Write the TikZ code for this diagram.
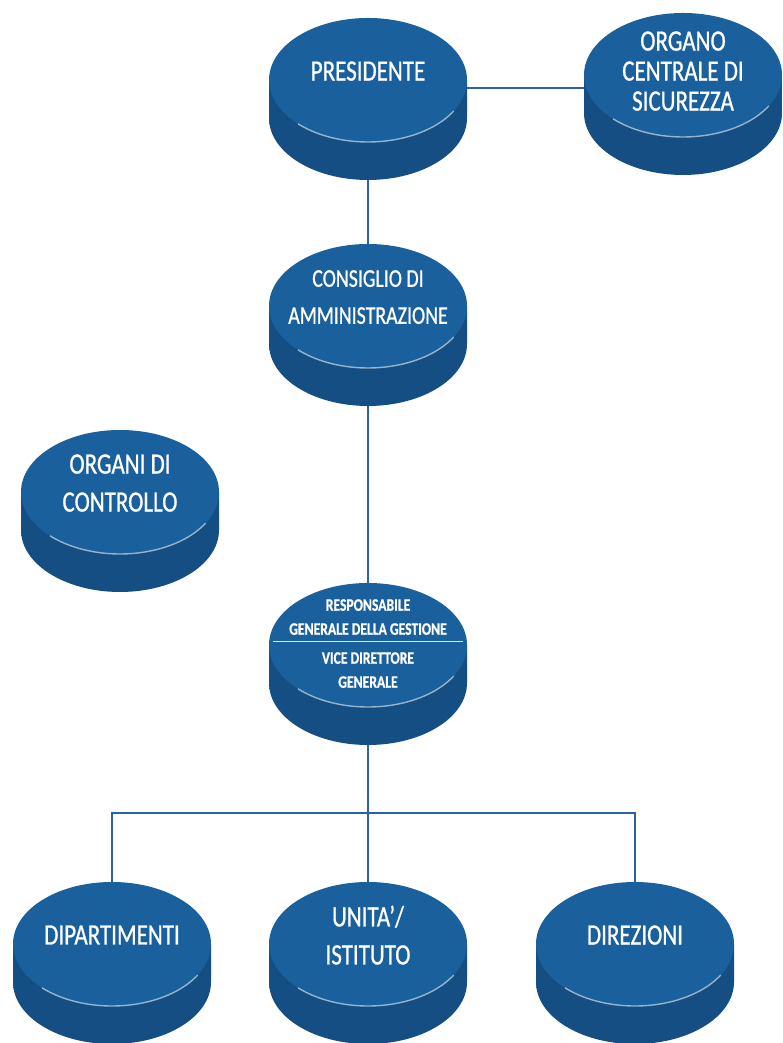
\documentclass[tikz,border=0pt]{standalone}
\usepackage{fontspec}
\newfontfamily\discfont[FakeStretch=0.78,FakeBold=0.8]{Carlito}
\usepackage{xcolor}
\definecolor{discblue}{RGB}{26,96,156}
\definecolor{discmid}{RGB}{30,98,155}
\definecolor{discdark}{RGB}{20,78,130}
\definecolor{wireblue}{RGB}{42,98,166}
\usepackage{tikz}
\usetikzlibrary{calc,backgrounds,shapes.geometric}
\tikzset{
  disc/.style={ellipse, fill=discblue, text=white, align=center,
               minimum width=198pt, minimum height=124pt,
               inner sep=-25pt, outer sep=0pt, text depth=18pt,
               font=\discfont\fontsize{29.5}{38}\selectfont},
  disctight/.style={font=\discfont\fontsize{25.5}{37}\selectfont},
  disctriple/.style={text depth=8pt, font=\discfont\fontsize{29.5}{30}\selectfont},
  discsmall/.style={text depth=3pt,
                    font=\discfont\bfseries\fontsize{17.5}{24}\selectfont},
  discside/.style={left color=discdark, middle color=discmid, right color=discdark},
  discrim/.style={draw=white, opacity=0.55, line width=1.4pt},
  wire/.style={draw=wireblue, line width=1.3pt},
}

\begin{document}
\begin{tikzpicture}[x=1pt,y=1pt]
\useasboundingbox (0,0) rectangle (782,1043);

\node[disc] (pres) at (368,963) {PRESIDENTE};
\node[disc,disctriple] (sic) at (683,968) {ORGANO\\CENTRALE DI\\SICUREZZA};
\node[disc,disctight] (cda) at (368,737) {CONSIGLIO DI\\AMMINISTRAZIONE};
\node[disc] (ctrl) at (120,551) {ORGANI DI\\CONTROLLO};
\node[disc,discsmall] (rgg) at (368,398)
  {RESPONSABILE\\GENERALE DELLA GESTIONE\\[5pt]VICE DIRETTORE\\GENERALE};
\node[disc] (dip) at (112,99) {DIPARTIMENTI};
\node[disc] (uni) at (368,99) {UNITA’/\\ISTITUTO};
\node[disc] (dir) at (635,99) {DIREZIONI};
\coordinate (bus) at (368,230);

\begin{pgfonlayer}{background}
\fill[white] (0,0) rectangle (782,1043);
\draw[wire] ([yshift=-8pt]pres.east) -- ([yshift=-8pt]pres.east -| sic.west);
\draw[wire] (pres.south) -- (cda.north);
\draw[wire] (cda.south) -- (rgg.north);
\draw[wire] (rgg.south) -- (uni.north);
\draw[wire] (dip.north) |- (bus) -| (dir.north);
\foreach \n in {pres,sic,cda,ctrl,rgg,dip,uni,dir}
  \shade[discside] (\n.west) -- ++(0,-38)
    arc[start angle=180,end angle=360,x radius=99,y radius=62]
    -- (\n.east) -- cycle;
\end{pgfonlayer}

\foreach \n in {pres,sic,cda,ctrl,rgg,dip,uni,dir}
  \draw[discrim] (\n.center) ++(225:99 and 62)
    arc[start angle=225,end angle=330,x radius=99,y radius=62];
\draw[draw=white!85!discblue, line width=0.9pt]
  ($(rgg.west)+(4,4)$) -- ($(rgg.east)+(-4,4)$);
\end{tikzpicture}
\end{document}
